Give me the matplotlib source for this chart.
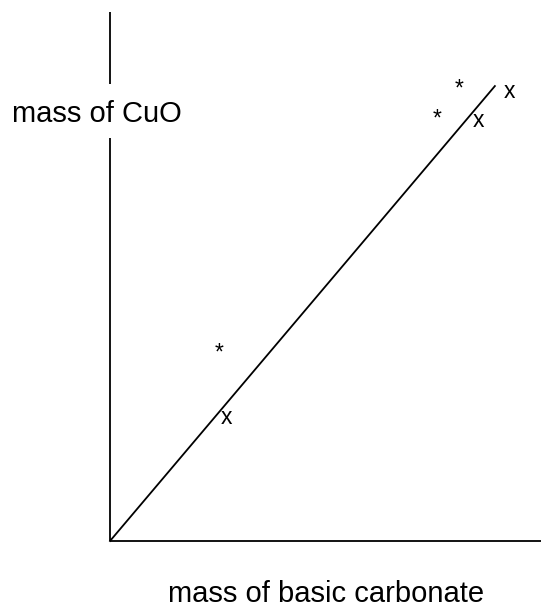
import matplotlib.pyplot as plt

plt.rcParams['font.family'] = ['Liberation Sans', 'DejaVu Sans']

# axis scale 0..10 in both directions (arbitrary units)
line_x = [0, 8.93]
line_y = [0, 8.60]

# "x" points (text placed centred, on baseline)
x_pts_x = [2.71, 8.54, 9.26]
x_pts_y = [2.21, 7.83, 8.37]

# "*" points
star_x = [2.53, 7.59, 8.11]
star_y = [3.43, 7.85, 8.42]

W, H = 541, 605
fig = plt.figure(figsize=(W / 100, H / 100), dpi=100)
ax = fig.add_axes([110 / W, (H - 541) / H, 431 / W, 529 / H])
ax.set_xlim(0, 10)
ax.set_ylim(0, 10)
ax.axis('off')

lw = 1.3
# axes drawn by hand, y axis broken around its label
ax.plot([0, 10], [0, 0], color='black', lw=lw, clip_on=False, solid_capstyle='butt')
ax.plot([0, 0], [0, 7.62], color='black', lw=lw, clip_on=False, solid_capstyle='butt')
ax.plot([0, 0], [8.64, 10], color='black', lw=lw, clip_on=False, solid_capstyle='butt')

ax.plot(line_x, line_y, color='black', lw=lw, clip_on=False)

for x, y in zip(x_pts_x, x_pts_y):
    ax.text(x, y, 'x', fontsize=16.5, ha='center', va='baseline')
for x, y in zip(star_x, star_y):
    ax.text(x, y, '*', fontsize=16.5, ha='center', va='baseline')

ax.text(-0.30, 7.92, 'mass of CuO', fontsize=21, ha='center', va='baseline', clip_on=False)
ax.text(5.02, -1.16, 'mass of basic carbonate', fontsize=21, ha='center', va='baseline', clip_on=False)

fig.savefig('out.png', dpi=100)
